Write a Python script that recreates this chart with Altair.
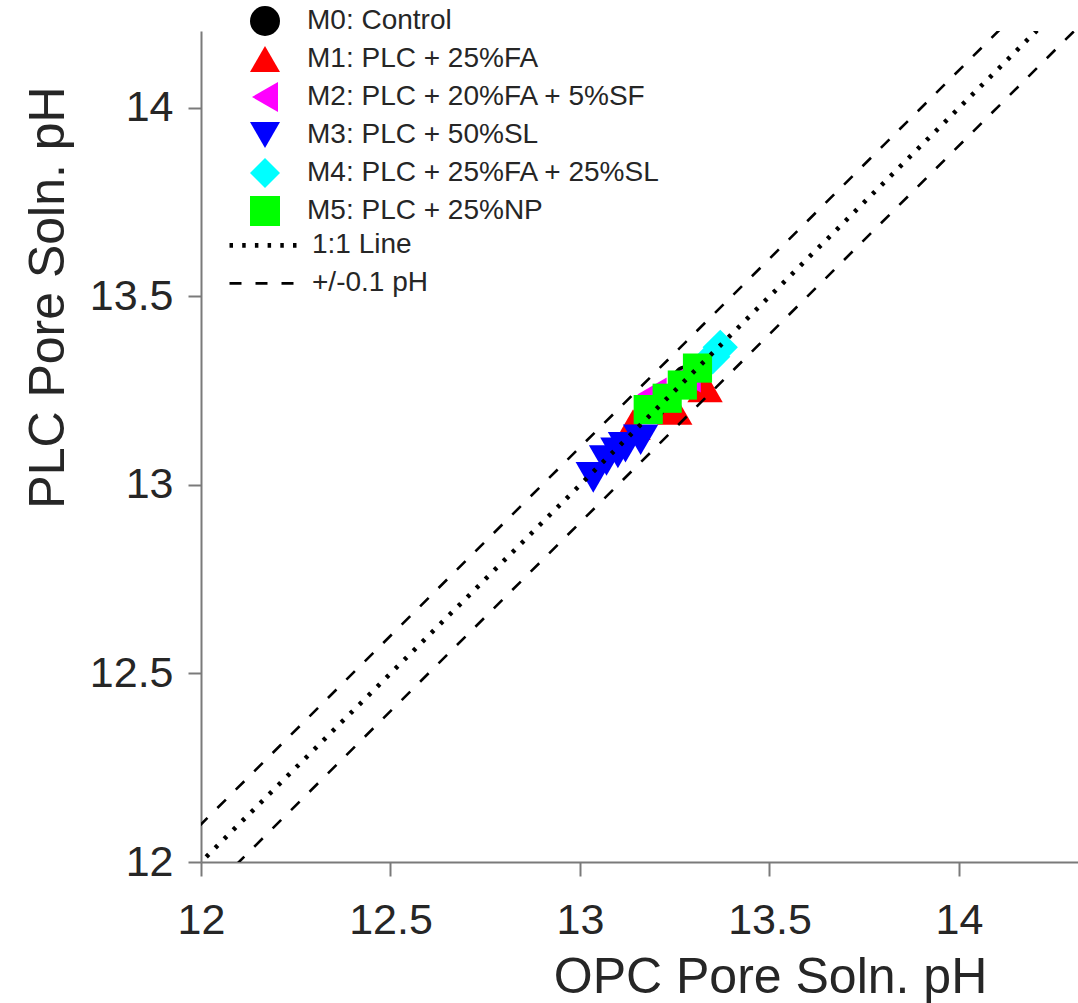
import altair as alt
import pandas as pd

# ---- data ----
mixes = ["M0: Control", "M1: PLC + 25%FA", "M2: PLC + 20%FA + 5%SF",
         "M3: PLC + 50%SL", "M4: PLC + 25%FA + 25%SL", "M5: PLC + 25%NP"]
mix_colors = ["#000000", "#ff0000", "#ff00ff", "#0000ff", "#00ffff", "#00ff00"]
mix_shapes = ["circle", "triangle-up", "triangle-left", "triangle-down", "diamond", "square"]
mix_sizes = [800, 1250, 1150, 1250, 1250, 850]

m0_opc = [13.22, 13.28]
m0_plc = [13.22, 13.28]
m1_opc = [13.14, 13.25, 13.33]
m1_plc = [13.16, 13.20, 13.26]
m2_opc = [13.19, 13.28]
m2_plc = [13.24, 13.29]
m3_opc = [13.035, 13.07, 13.10, 13.12, 13.16]
m3_plc = [13.02, 13.065, 13.085, 13.10, 13.12]
m4_opc = [13.35, 13.37]
m4_plc = [13.34, 13.365]
m5_opc = [13.18, 13.23, 13.27, 13.31]
m5_plc = [13.20, 13.23, 13.265, 13.31]

ref_names = ["1:1 Line", "+/-0.1 pH"]
ref_x = [11.8, 14.6]
ref_offsets = [0.0, 0.1, -0.1]
ref_kinds = ["1:1 Line", "+/-0.1 pH", "+/-0.1 pH"]

x_ticks = [12, 12.5, 13, 13.5, 14]
y_ticks = [12, 12.5, 13, 13.5, 14]

# ---- tables ----
rows = []
idx = 0
for name, msize, xs, ys in zip(mixes, mix_sizes,
                               [m0_opc, m1_opc, m2_opc, m3_opc, m4_opc, m5_opc],
                               [m0_plc, m1_plc, m2_plc, m3_plc, m4_plc, m5_plc]):
    for a, b in zip(xs, ys):
        rows.append({"mix": name, "opc": a, "plc": b, "idx": idx, "msize": msize})
        idx += 1
pts = pd.DataFrame(rows)

lrows = []
for i, (off, kind) in enumerate(zip(ref_offsets, ref_kinds)):
    for xv in ref_x:
        lrows.append({"line_id": i, "kind": kind, "opc": xv, "plc": xv + off})
lines = pd.DataFrame(lrows)

FONT = "Liberation Sans"
TXT = "#262626"
AX = "#7a7a7a"

x_scale = alt.Scale(domain=[12, 14.314], nice=False, zero=False)
y_scale = alt.Scale(domain=[12, 14.204], nice=False, zero=False)

x_axis = alt.Axis(values=x_ticks, format="~g", grid=False,
                  domainColor=AX, domainWidth=2, tickColor=AX, tickWidth=2, tickSize=14,
                  labelFont=FONT, labelFontSize=43, labelColor=TXT,
                  labelBaseline="alphabetic", labelPadding=57,
                  labelFlush=False, labelOverlap=False,
                  title="OPC Pore Soln. pH", titleFont=FONT, titleFontSize=50,
                  titleFontWeight="normal", titleColor=TXT,
                  titleX=569, titleY=130, titleAlign="center", titleBaseline="alphabetic")
y_axis = alt.Axis(values=y_ticks, format="~g", grid=False,
                  domainColor=AX, domainWidth=2, tickColor=AX, tickWidth=2, tickSize=13,
                  labelFont=FONT, labelFontSize=43, labelColor=TXT,
                  labelPadding=15, labelFlush=False, labelOverlap=False,
                  title="PLC Pore Soln. pH", titleFont=FONT, titleFontSize=50,
                  titleFontWeight="normal", titleColor=TXT,
                  titleX=-138, titleY=266, titleAngle=270,
                  titleAlign="center", titleBaseline="alphabetic")

pt_legend = alt.Legend(orient="none", legendX=49, legendY=-28.7, title=None,
                       padding=0, rowPadding=0, clipHeight=37.4, labelOffset=27,
                       symbolSize=900,
                       labelFont=FONT, labelFontSize=28, labelColor=TXT, labelLimit=800,
                       symbolStrokeWidth=0)

points = alt.Chart(pts).mark_point(filled=True, opacity=1, strokeWidth=0).encode(
    x=alt.X("opc:Q", scale=x_scale, axis=x_axis),
    y=alt.Y("plc:Q", scale=y_scale, axis=y_axis),
    color=alt.Color("mix:N", scale=alt.Scale(domain=mixes, range=mix_colors), legend=pt_legend),
    shape=alt.Shape("mix:N", scale=alt.Scale(domain=mixes, range=mix_shapes), legend=pt_legend),
    size=alt.Size("msize:Q", scale=None, legend=None),
    order=alt.Order("idx:Q"),
)

ln_legend = alt.Legend(orient="none", legendX=26, legendY=195.7, title=None,
                       padding=0, rowPadding=0, clipHeight=37.4, labelOffset=10,
                       symbolType="stroke", symbolSize=4900, symbolStrokeColor="black",
                       symbolStrokeWidth=3.4,
                       labelFont=FONT, labelFontSize=28, labelColor=TXT, labelLimit=800)

ref = alt.Chart(lines).mark_line(clip=True, color="black").encode(
    x=alt.X("opc:Q", scale=x_scale),
    y=alt.Y("plc:Q", scale=y_scale),
    detail="line_id:N",
    strokeDash=alt.StrokeDash("kind:N", scale=alt.Scale(domain=ref_names, range=[[3.5, 9.2], [12, 14]]),
                              legend=ln_legend),
    strokeWidth=alt.StrokeWidth("kind:N",
                                scale=alt.Scale(type="ordinal", domain=ref_names, range=[4.6, 2.6]),
                                legend=None),
)

chart = alt.layer(points, ref).properties(
    width=877, height=831,
    padding={"left": 201, "top": 31, "right": 0, "bottom": 141},
    autosize=alt.AutoSizeParams(type="none"),
    background="white",
).configure_view(stroke="transparent")

chart.save("out.html", embed_options={"renderer": "svg", "actions": False})
